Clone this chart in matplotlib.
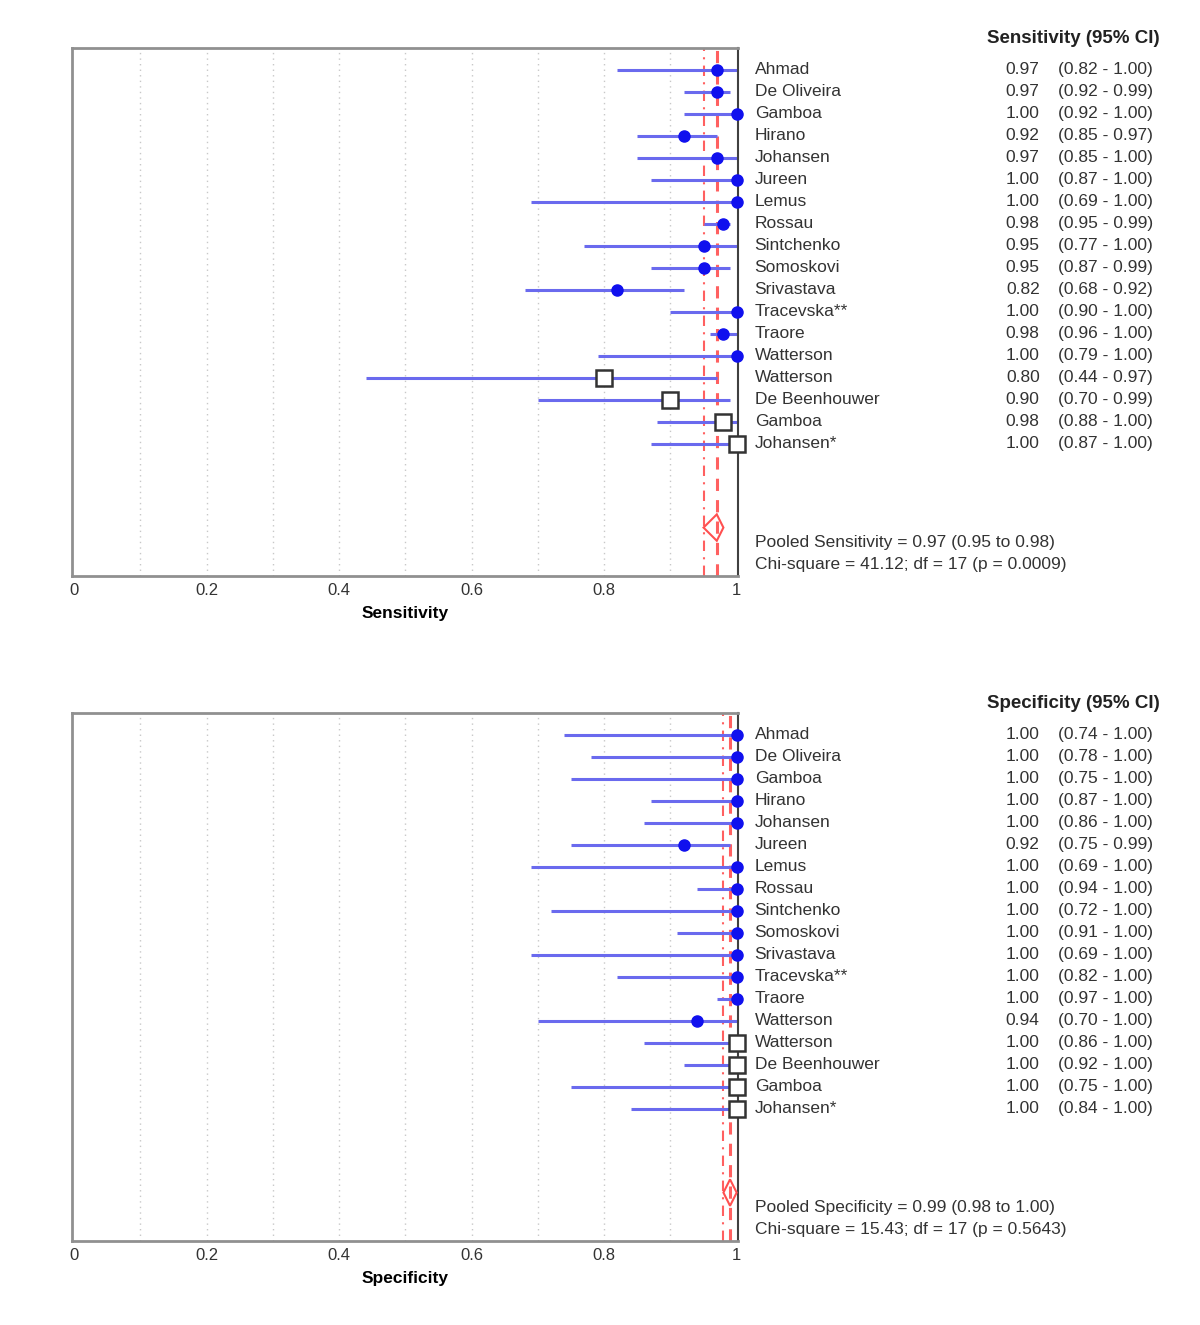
import numpy as np
import matplotlib
matplotlib.use("Agg")
import matplotlib.pyplot as plt

plt.rcParams['font.family'] = ['Liberation Sans', 'DejaVu Sans']

studies = ["Ahmad", "De Oliveira", "Gamboa", "Hirano", "Johansen", "Jureen", "Lemus",
           "Rossau", "Sintchenko", "Somoskovi", "Srivastava", "Tracevska**", "Traore",
           "Watterson", "Watterson", "De Beenhouwer", "Gamboa", "Johansen*"]
# last four studies drawn as open squares
square = [False] * 14 + [True] * 4

sens = [0.97, 0.97, 1.00, 0.92, 0.97, 1.00, 1.00, 0.98, 0.95, 0.95, 0.82, 1.00, 0.98,
        1.00, 0.80, 0.90, 0.98, 1.00]
sens_lo = [0.82, 0.92, 0.92, 0.85, 0.85, 0.87, 0.69, 0.95, 0.77, 0.87, 0.68, 0.90, 0.96,
           0.79, 0.44, 0.70, 0.88, 0.87]
sens_hi = [1.00, 0.99, 1.00, 0.97, 1.00, 1.00, 1.00, 0.99, 1.00, 0.99, 0.92, 1.00, 1.00,
           1.00, 0.97, 0.99, 1.00, 1.00]

spec = [1.00, 1.00, 1.00, 1.00, 1.00, 0.92, 1.00, 1.00, 1.00, 1.00, 1.00, 1.00, 1.00,
        0.94, 1.00, 1.00, 1.00, 1.00]
spec_lo = [0.74, 0.78, 0.75, 0.87, 0.86, 0.75, 0.69, 0.94, 0.72, 0.91, 0.69, 0.82, 0.97,
           0.70, 0.86, 0.92, 0.75, 0.84]
spec_hi = [1.00, 1.00, 1.00, 1.00, 1.00, 0.99, 1.00, 1.00, 1.00, 1.00, 1.00, 1.00, 1.00,
           1.00, 1.00, 1.00, 1.00, 1.00]

pooled_sens = (0.97, 0.95, 0.98)
pooled_spec = (0.99, 0.98, 1.00)
sens_text = ["Pooled Sensitivity = 0.97 (0.95 to 0.98)",
             "Chi-square = 41.12; df = 17 (p = 0.0009)"]
spec_text = ["Pooled Specificity = 0.99 (0.98 to 1.00)",
             "Chi-square = 15.43; df = 17 (p = 0.5643)"]

FS = 12.5


def forest(ax, est, lo, hi, pooled, stats, label, header):
    n = len(est)
    rows = np.arange(n)
    for x in np.arange(0.1, 1.0, 0.1):
        ax.axvline(x, color="#c8c8c8", ls=(0, (1, 3)), lw=1, zorder=0)
    ax.hlines(rows, lo, hi, color="#6a6aee", lw=2.2, zorder=2)
    for i in rows:
        if square[i]:
            ax.plot(est[i], i, marker="s", ms=11, mfc="white", mec="#333333", mew=1.8,
                    zorder=4, clip_on=False)
        else:
            ax.plot(est[i], i, marker="o", ms=8, color="#1010ee", zorder=4, clip_on=False)
    p, plo, phi = pooled
    ax.axvline(plo, color="#ff6060", ls=(0, (5, 3, 1, 3)), lw=1.5, zorder=1)
    ax.axvline(p, color="#ff6060", ls=(0, (4, 3)), lw=2.2, zorder=1)
    ax.fill([plo, p, phi, p, plo], [20.8, 20.2, 20.8, 21.4, 20.8], facecolor="none",
            edgecolor="#ff5050", lw=1.5, zorder=3)

    ax.set_xlim(-0.003, 1.002)
    ax.set_ylim(23, -1)
    ax.set_yticks([])
    ax.set_xticks([0, 0.2, 0.4, 0.6, 0.8, 1])
    ax.set_xticklabels(["0", "0.2", "0.4", "0.6", "0.8", "1"])
    ax.tick_params(axis="x", length=0, pad=5, labelsize=12, labelcolor="#333333")
    ax.set_xlabel(label, fontsize=12.5, fontweight="bold", labelpad=6)
    for s in ["left", "top", "bottom"]:
        ax.spines[s].set_color("#909090")
        ax.spines[s].set_linewidth(2)
    ax.spines["right"].set_color("#404040")
    ax.spines["right"].set_linewidth(1.5)

    tr = ax.get_yaxis_transform()
    for i in rows:
        ax.text(1.025, i, studies[i], transform=tr, fontsize=FS, va="center",
                color="#333333")
        ax.text(1.453, i, "%.2f" % est[i], transform=tr, fontsize=FS, va="center",
                ha="right", color="#333333")
        ax.text(1.48, i, "(%.2f - %.2f)" % (lo[i], hi[i]), transform=tr, fontsize=FS,
                va="center", color="#333333")
    ax.text(1.503, -1.45, header, transform=tr, fontsize=13.5, fontweight="bold",
            ha="center", va="center", color="#222222")
    ax.text(1.025, 21.5, stats[0], transform=tr, fontsize=FS, va="center", color="#333333")
    ax.text(1.025, 22.5, stats[1], transform=tr, fontsize=FS, va="center", color="#333333")


fig = plt.figure(figsize=(12, 13.25), dpi=100)
ax1 = fig.add_axes([0.06, 0.5653, 0.555, 0.3985])
ax2 = fig.add_axes([0.06, 0.0634, 0.555, 0.3985])

forest(ax1, sens, sens_lo, sens_hi, pooled_sens, sens_text, "Sensitivity",
       "Sensitivity (95% CI)")
forest(ax2, spec, spec_lo, spec_hi, pooled_spec, spec_text, "Specificity",
       "Specificity (95% CI)")

fig.savefig("out.png", dpi=100)
